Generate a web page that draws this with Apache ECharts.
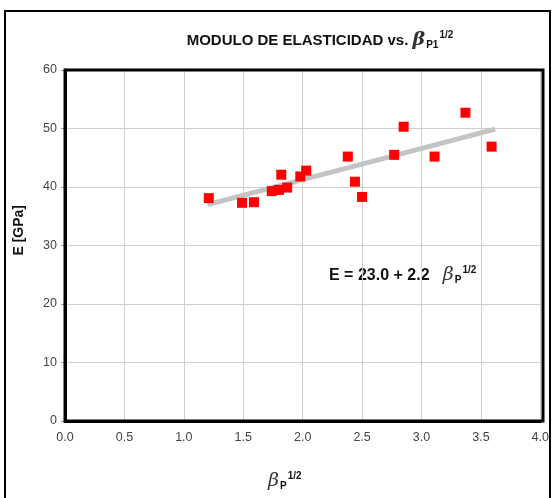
<!DOCTYPE html>
<html>
<head>
<meta charset="utf-8">
<script src="https://cdn.jsdelivr.net/npm/echarts@6/dist/echarts.min.js"></script>
<style>
  html, body { margin: 0; padding: 0; background: #fff; }
  #chart { width: 552px; height: 498px; }
</style>
</head>
<body>
<div id="chart"></div>
<script>
// puntos medidos (beta_P^1/2, E en GPa)
var betaValues = [1.21, 1.49, 1.59, 1.74, 1.80, 1.87, 1.82, 1.98, 2.03, 2.38, 2.44, 2.50, 2.77, 2.85, 3.11, 3.37, 3.59];
var eValues    = [38.1, 37.3, 37.4, 39.3, 39.5, 39.9, 42.1, 41.8, 42.8, 45.2, 40.9, 38.3, 45.5, 50.3, 45.2, 52.7, 46.9];

// linea de tendencia (extremos)
var trendX = [1.2, 3.62];
var trendY = [37.0, 49.9];

var chart = echarts.init(document.getElementById('chart'));

var points = betaValues.map(function (b, i) { return [b, eValues[i]]; });
var trend = trendX.map(function (x, i) { return [x, trendY[i]]; });

var font = 'Arial, "Liberation Sans", sans-serif';

function betaRich(mainSize) {
  return {
    t: { fontFamily: font, fontWeight: 'bold', fontSize: mainSize, fill: '#111', color: '#111' },
    b: { fontFamily: 'DejaVu Serif, serif', fontStyle: 'italic', fontSize: 19, fill: '#333', color: '#333' },
    s: { fontFamily: font, fontWeight: 'bold', fontSize: 10, fill: '#111', color: '#111', padding: [9, 1, 0, 1] },
    p: { fontFamily: font, fontWeight: 'bold', fontSize: 10, fill: '#111', color: '#111', padding: [0, 0, 11, 0] }
  };
}

var option = {
  animation: false,
  backgroundColor: '#fff',
  title: {
    text: '{t|MODULO DE ELASTICIDAD vs. }{b|β}{s|P1}{p|1/2}',
    left: 315,
    textAlign: 'center',
    top: 25,
    textStyle: { rich: betaRich(15) }
  },
  grid: { left: 65, right: 9, top: 70, bottom: 77 },
  xAxis: {
    type: 'value',
    min: 0, max: 4, interval: 0.5,
    axisLine: { show: true, onZero: false, lineStyle: { color: '#000', width: 3 } },
    axisTick: { show: false },
    splitLine: { show: true, lineStyle: { color: '#cfcfcf', width: 1 } },
    axisLabel: {
      color: '#444', fontFamily: font, fontSize: 12.5, margin: 10,
      formatter: function (v) { return v.toFixed(1); }
    }
  },
  yAxis: {
    type: 'value',
    min: 0, max: 60, interval: 10,
    axisLine: { show: true, lineStyle: { color: '#000', width: 3 } },
    axisTick: { show: true, length: 4, lineStyle: { color: '#999' } },
    splitLine: { show: true, lineStyle: { color: '#cfcfcf', width: 1 } },
    axisLabel: { color: '#444', fontFamily: font, fontSize: 12.5, margin: 8 }
  },
  series: [
    {
      type: 'line',
      data: trend,
      symbol: 'none',
      lineStyle: { color: '#c4c4c4', width: 5 },
      z: 2
    },
    {
      type: 'scatter',
      data: points,
      symbol: 'rect',
      symbolSize: 10,
      itemStyle: { color: '#ff0000', opacity: 1 },
      z: 3
    }
  ],
  graphic: [
    {
      type: 'rect',
      shape: { x: 5, y: 11, width: 545, height: 492 },
      style: { fill: null, stroke: '#000', lineWidth: 2 },
      silent: true
    },
    {
      type: 'rect',
      shape: { x: 65, y: 70, width: 478, height: 351 },
      style: { fill: null, stroke: '#000', lineWidth: 3 },
      silent: true, z: 10
    },
    {
      type: 'text',
      left: 12, top: 205,
      rotation: Math.PI / 2,
      style: {
        text: 'E [GPa]',
        font: 'bold 14px ' + font,
        fill: '#111',
        textAlign: 'center',
        textVerticalAlign: 'middle'
      }
    },
    {
      type: 'text',
      left: 268, top: 471,
      style: { text: '{b|β}{s|P}{p|1/2}', rich: betaRich(15) }
    },
    {
      type: 'text',
      left: 329, top: 265,
      style: { text: '{t|E = 23.0 + 2.2   }{b|β}{s|P}{p|1/2}', rich: betaRich(16) }
    }
  ]
};

chart.setOption(option);
</script>
</body>
</html>
